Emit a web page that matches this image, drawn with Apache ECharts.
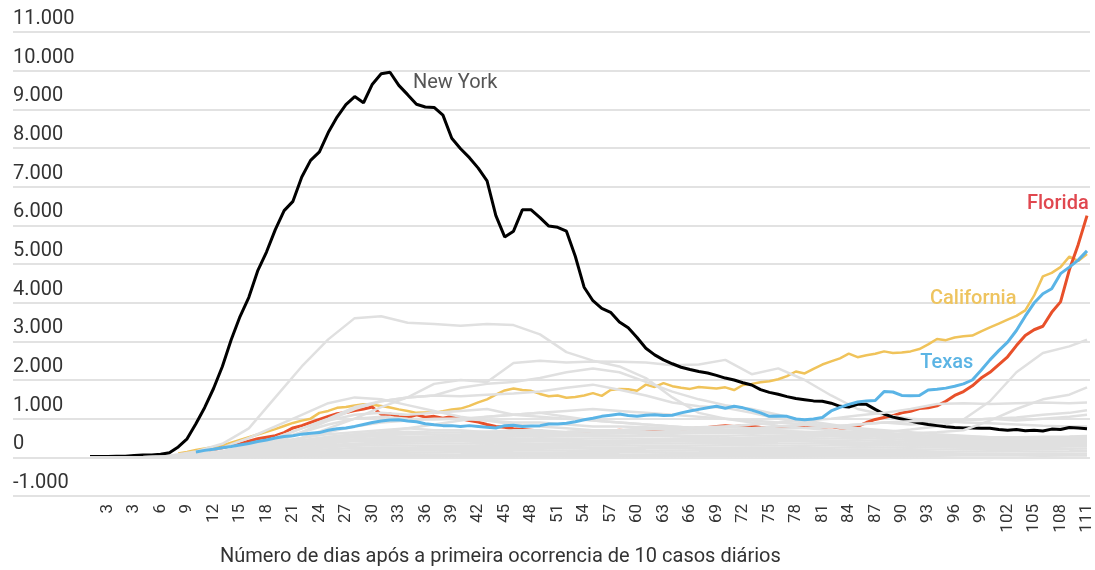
<!DOCTYPE html>
<html>
<head>
<meta charset="utf-8">
<script src="https://cdn.jsdelivr.net/npm/echarts@6/dist/echarts.min.js"></script>
<style>
html, body { margin: 0; padding: 0; background: #fff; }
#chart { width: 1095px; height: 570px; }
</style>
</head>
<body>
<div id="chart"></div>
<script>
// eixo x: posicao do dia na serie (0..113) e os rotulos mostrados
var tickDays = [2, 5, 8, 11, 14, 17, 20, 23, 26, 29, 32, 35, 38, 41, 44, 47, 50, 53, 56, 59, 62, 65, 68, 71, 74, 77, 80, 83, 86, 89, 92, 95, 98, 101, 104, 107, 110, 113];
var tickLabels = ['3', '3', '6', '9', '12', '15', '18', '21', '24', '27', '30', '33', '36', '39', '42', '45', '48', '51', '54', '57', '60', '63', '66', '69', '72', '75', '78', '81', '84', '87', '90', '93', '96', '99', '102', '105', '108', '111'];
var yTicks = { min: -1000, max: 11000, step: 1000 };

// estados destacados (um valor por dia)
var newYork = [20, 20, 20, 30, 30, 50, 60, 60, 80, 120,
  270, 480, 870, 1290, 1780, 2350, 3040, 3640, 4140, 4820,
  5310, 5890, 6380, 6620, 7250, 7680, 7900, 8400, 8800, 9120,
  9330, 9170, 9650, 9920, 9960, 9620, 9380, 9130, 9060, 9050,
  8850, 8250, 7980, 7750, 7480, 7150, 6250, 5700, 5850, 6400,
  6400, 6200, 5980, 5950, 5850, 5200, 4400, 4050, 3850, 3750,
  3500, 3350, 3100, 2820, 2650, 2520, 2420, 2330, 2270, 2220,
  2180, 2120, 2050, 2000, 1930, 1870, 1750, 1680, 1630, 1570,
  1520, 1490, 1460, 1450, 1400, 1320, 1300, 1370, 1370, 1240,
  1120, 1040, 990, 940, 890, 850, 820, 790, 770, 760,
  760, 750, 750, 720, 700, 720, 690, 700, 680, 730,
  720, 770, 760, 740];
var texas = [null, null, null, null, null, null, null, null, null, null, null, null,
  140, 180, 210, 250, 280, 320, 360, 410,
  450, 500, 540, 560, 600, 620, 640, 700, 740, 760,
  800, 850, 900, 940, 965, 970, 940, 920, 870, 840,
  820, 820, 800, 820, 800, 780, 760, 820, 830, 800,
  810, 820, 860, 860, 880, 920, 970, 1010, 1060, 1090,
  1120, 1080, 1060, 1090, 1100, 1080, 1090, 1150, 1200, 1240,
  1280, 1320, 1270, 1320, 1280, 1220, 1150, 1060, 1070, 1060,
  990, 970, 990, 1030, 1200, 1290, 1370, 1430, 1460, 1470,
  1700, 1690, 1600, 1590, 1600, 1740, 1760, 1790, 1840, 1900,
  2000, 2250, 2520, 2760, 2980, 3280, 3650, 3990, 4230, 4360,
  4750, 4920, 5100, 5340];
var california = [null, null, null, null, null, null, null, null, null, null,
  100, 140, 190, 230, 270, 310, 380, 450, 520, 590,
  660, 730, 810, 890, 950, 1000, 1150, 1200, 1280, 1300,
  1340, 1370, 1360, 1330, 1290, 1240, 1200, 1150, 1160, 1150,
  1190, 1240, 1260, 1330, 1420, 1500, 1620, 1730, 1780, 1740,
  1720, 1640, 1580, 1600, 1540, 1560, 1600, 1660, 1590, 1740,
  1770, 1760, 1720, 1880, 1820, 1920, 1840, 1800, 1770, 1820,
  1800, 1780, 1810, 1740, 1870, 1900, 1940, 1970, 2020, 2100,
  2220, 2170, 2290, 2400, 2480, 2560, 2680, 2590, 2640, 2680,
  2740, 2700, 2710, 2740, 2800, 2920, 3060, 3030, 3100, 3130,
  3150, 3260, 3360, 3460, 3560, 3660, 3800, 4180, 4680, 4770,
  4920, 5190, 5080, 5260];
var florida = [null, null, null, null, null, null, null, null, null, null,
  60, 90, 120, 160, 200, 250, 300, 350, 420, 480,
  520, 560, 640, 760, 820, 900, 980, 1060, 1130, 1160,
  1210, 1250, 1300, 1110, 1120, 1050, 1030, 1100, 1040, 1060,
  1010, 1060, 1000, 950, 910, 850, 800, 780, 740, 720,
  700, 680, 650, 640, 630, 640, 670, 620, 650, 680,
  700, 690, 710, 720, 700, 720, 740, 720, 740, 760,
  770, 800, 820, 800, 820, 810, 770, 760, 780, 800,
  790, 800, 790, 780, 800, 760, 750, 800, 900, 980,
  1030, 1080, 1150, 1190, 1260, 1280, 1330, 1450, 1600, 1700,
  1850, 2050, 2200, 2400, 2600, 2890, 3150, 3300, 3390, 3750,
  4020, 4850, 5500, 6250];

// demais estados, um valor a cada 3 dias
var greyDays = [0, 3, 6, 9, 12, 15, 18, 21, 24, 27, 30, 33, 36, 39, 42, 45, 48, 51, 54, 57, 60, 63, 66, 69, 72, 75, 78, 81, 84, 87, 90, 93, 96, 99, 102, 105, 108, 111, 113];
var gArizona = [0, 0, 0, 5, 10, 20, 40, 60, 80, 100, 120, 150, 180, 200, 220, 250, 280, 300, 330, 360, 380, 400, 420, 450, 480, 500, 520, 540, 560, 600, 650, 720, 800, 980, 1450, 2200, 2700, 2870, 3040];
var gNewJersey = [0, 0, 10, 40, 150, 350, 750, 1550, 2350, 3050, 3600, 3650, 3480, 3450, 3400, 3450, 3420, 3180, 2720, 2500, 2350, 2050, 1550, 1150, 1000, 900, 820, 760, 700, 640, 580, 520, 480, 450, 430, 410, 390, 370, 360];
var gIllinois = [0, 0, 5, 20, 60, 120, 200, 320, 500, 750, 1000, 1300, 1550, 1900, 2000, 1950, 2440, 2500, 2450, 2480, 2470, 2450, 2380, 2400, 2520, 2150, 2300, 2000, 1600, 1250, 1100, 1000, 950, 900, 880, 850, 820, 800, 800];
var gMassachusetts = [0, 0, 5, 20, 60, 150, 300, 500, 750, 1000, 1300, 1450, 1550, 1600, 1800, 1900, 1950, 2050, 2200, 2300, 2200, 1950, 1700, 1500, 1350, 1250, 1100, 950, 850, 750, 650, 550, 500, 450, 420, 400, 380, 370, 360];
var gPennsylvania = [0, 0, 5, 15, 40, 100, 200, 380, 650, 950, 1250, 1450, 1550, 1600, 1580, 1620, 1650, 1700, 1800, 1880, 1750, 1600, 1420, 1320, 1280, 1150, 1000, 900, 800, 700, 620, 560, 520, 480, 450, 430, 420, 400, 390];
var gMichigan = [0, 0, 5, 30, 100, 250, 500, 800, 1100, 1400, 1550, 1500, 1350, 1200, 1050, 950, 850, 800, 750, 700, 650, 600, 550, 500, 480, 460, 440, 420, 400, 380, 360, 350, 340, 330, 320, 310, 300, 300, 290];
var gMid1 = [0, 0, 5, 20, 60, 150, 300, 500, 750, 950, 1100, 1150, 1100, 1150, 1200, 1250, 1100, 1050, 1000, 950, 900, 850, 800, 750, 700, 650, 620, 600, 580, 560, 540, 520, 500, 480, 460, 440, 420, 400, 400];
var gMid2 = [0, 0, 5, 15, 50, 120, 250, 450, 650, 850, 1000, 1050, 1000, 980, 1000, 1050, 1100, 1150, 1050, 950, 900, 850, 800, 750, 720, 700, 680, 650, 620, 600, 580, 560, 540, 520, 500, 500, 480, 470, 460];
var gMid3 = [0, 0, 5, 10, 40, 100, 200, 350, 500, 650, 800, 900, 950, 1000, 1000, 950, 900, 900, 850, 800, 800, 780, 760, 740, 720, 700, 680, 660, 640, 620, 600, 580, 560, 540, 520, 500, 480, 460, 450];
var gMid4 = [0, 0, 5, 10, 30, 80, 150, 250, 350, 450, 550, 650, 750, 850, 950, 1050, 1100, 1150, 1200, 1250, 1200, 1150, 1100, 1050, 1000, 950, 900, 850, 800, 750, 700, 650, 600, 560, 520, 500, 480, 460, 450];
var gMid5 = [0, 0, 5, 20, 60, 150, 250, 400, 500, 600, 650, 700, 750, 700, 700, 650, 700, 700, 650, 700, 700, 750, 700, 750, 800, 750, 800, 850, 800, 850, 900, 850, 900, 950, 1000, 950, 1000, 1050, 1100];
var gLateA = [0, 0, 0, 5, 10, 20, 40, 70, 100, 130, 170, 200, 230, 260, 280, 300, 320, 340, 360, 380, 400, 420, 440, 460, 480, 500, 520, 540, 560, 580, 600, 620, 650, 700, 950, 1250, 1500, 1620, 1810];
var gLateB = [0, 0, 5, 20, 50, 100, 160, 220, 300, 380, 450, 500, 520, 540, 560, 580, 600, 620, 650, 680, 700, 720, 750, 780, 800, 850, 900, 950, 1000, 1080, 1150, 1250, 1380, 1400, 1380, 1400, 1420, 1400, 1420];
var gLateC = [0, 0, 5, 15, 40, 80, 130, 180, 230, 280, 330, 380, 420, 460, 500, 520, 540, 560, 580, 600, 620, 640, 660, 680, 700, 720, 740, 760, 800, 850, 900, 930, 950, 960, 1000, 1030, 1100, 1150, 1220];
var gLow1 = [0, 0, 0, 2, 5, 8, 10, 15, 20, 25, 30, 30, 35, 30, 35, 40, 35, 30, 35, 40, 35, 30, 35, 40, 40, 35, 30, 35, 40, 45, 40, 35, 40, 45, 50, 45, 40, 45, 50];
var gLow2 = [0, 0, 2, 5, 10, 20, 30, 45, 60, 70, 80, 85, 80, 75, 80, 90, 85, 80, 85, 90, 80, 75, 80, 85, 90, 85, 80, 85, 90, 95, 90, 85, 90, 95, 100, 95, 90, 95, 100];
var gLow3 = [0, 0, 3, 8, 15, 30, 50, 70, 90, 110, 130, 140, 130, 125, 135, 140, 130, 125, 130, 140, 135, 130, 125, 130, 140, 135, 130, 140, 150, 145, 140, 135, 140, 150, 160, 155, 150, 160, 170];
var gLow4 = [0, 0, 3, 10, 20, 40, 70, 100, 130, 160, 180, 190, 185, 175, 180, 190, 185, 180, 175, 185, 190, 180, 175, 185, 190, 195, 185, 180, 190, 200, 195, 190, 200, 210, 220, 215, 210, 220, 230];
var gLow5 = [0, 0, 5, 12, 25, 50, 90, 130, 170, 210, 240, 250, 245, 235, 240, 250, 245, 240, 235, 245, 250, 240, 235, 245, 250, 255, 245, 240, 250, 260, 255, 250, 260, 270, 280, 275, 270, 280, 290];
var gLow6 = [0, 0, 5, 15, 30, 60, 110, 160, 210, 260, 300, 310, 305, 295, 300, 310, 305, 300, 295, 305, 310, 300, 295, 305, 310, 315, 305, 300, 310, 320, 310, 300, 305, 310, 320, 315, 310, 320, 330];
var gLow7 = [0, 0, 5, 15, 35, 70, 130, 190, 250, 310, 360, 370, 365, 355, 360, 370, 365, 360, 355, 365, 370, 360, 355, 365, 370, 375, 365, 360, 370, 380, 370, 360, 365, 370, 380, 375, 370, 380, 390];
var gLow8 = [0, 0, 6, 18, 40, 80, 150, 220, 290, 360, 420, 430, 425, 410, 420, 430, 425, 420, 415, 425, 430, 420, 415, 425, 430, 435, 425, 420, 430, 440, 420, 400, 390, 380, 390, 400, 410, 420, 430];
var gLow9 = [0, 0, 6, 20, 45, 90, 170, 250, 330, 410, 470, 490, 480, 470, 480, 490, 480, 470, 475, 485, 490, 480, 470, 485, 490, 495, 485, 480, 490, 500, 480, 450, 430, 420, 430, 440, 450, 460, 470];
var gLow10 = [0, 0, 8, 22, 50, 100, 190, 280, 370, 450, 520, 550, 540, 530, 540, 550, 545, 535, 540, 550, 560, 550, 540, 550, 560, 570, 555, 540, 550, 560, 530, 500, 470, 450, 460, 470, 480, 490, 500];
var gLow11 = [0, 0, 8, 25, 55, 110, 200, 300, 400, 490, 560, 600, 610, 590, 600, 620, 610, 600, 610, 620, 630, 620, 610, 620, 630, 640, 620, 600, 610, 620, 580, 540, 500, 480, 490, 500, 510, 520, 530];
var gLow12 = [0, 0, 10, 25, 60, 120, 220, 330, 440, 530, 600, 640, 660, 640, 650, 670, 660, 650, 660, 680, 690, 670, 660, 670, 680, 690, 670, 650, 660, 660, 620, 570, 530, 500, 510, 520, 530, 540, 550];

var GREY = '#e0e0e0';
var FONT = 'Roboto';

function fmtThousands(v) {
	return String(v).replace(/\B(?=(\d{3})+(?!\d))/g, '.');
}

function greyLine(vals) {
	var pts = [];
	for (var k = 0; k < greyDays.length; ++k) {
		pts.push([greyDays[k], vals[k]]);
	}
	return {
		type: 'line', data: pts, symbol: 'none', silent: true,
		lineStyle: { color: GREY, width: 2.5 }
	};
}

function mainLine(vals, color, width, label, labelColor, weight, at) {
	var pts = [];
	for (var i = 0; i < vals.length; ++i) {
		pts.push([i, vals[i]]);
	}
	return {
		type: 'line', data: pts, symbol: 'none', silent: true,
		lineStyle: { color: color, width: width },
		markPoint: {
			symbol: 'circle', symbolSize: 0, silent: true,
			label: {
				show: true, position: 'right', distance: 0,
				color: labelColor, fontSize: 20, fontFamily: FONT, fontWeight: weight,
				formatter: label
			},
			data: [{ coord: at }]
		}
	};
}

// ordem de desenho: linhas cinzas passam por cima de parte das coloridas
var series = [
	greyLine(gArizona),
	mainLine(california, '#f0c35a', 2.5, 'California', '#eec45f', 500, [95.2, 4090]),
	mainLine(florida, '#e8502a', 3, 'Florida', '#e0474f', 500, [106.2, 6540]),
	greyLine(gNewJersey),
	greyLine(gIllinois),
	greyLine(gMassachusetts),
	greyLine(gPennsylvania),
	greyLine(gMichigan),
	greyLine(gMid1),
	greyLine(gMid2),
	greyLine(gMid3),
	greyLine(gMid4),
	greyLine(gMid5),
	greyLine(gLow12),
	greyLine(gLow11),
	greyLine(gLow10),
	greyLine(gLow9),
	mainLine(newYork, '#000000', 3, 'New York', '#555555', 'normal', [36.6, 9670]),
	greyLine(gLow8),
	greyLine(gLow7),
	greyLine(gLow6),
	greyLine(gLateA),
	greyLine(gLateB),
	mainLine(texas, '#5ab4e6', 3, 'Texas', '#5bb4e4', 500, [94.1, 2430]),
	greyLine(gLateC),
	greyLine(gLow5),
	greyLine(gLow4),
	greyLine(gLow3),
	greyLine(gLow2),
	greyLine(gLow1)
];

var myChart = echarts.init(document.getElementById('chart'), null, { renderer: 'canvas' });
var option = {
	animation: false,
	backgroundColor: '#fff',
	title: {
		text: 'Número de dias após a primeira ocorrencia de 10 casos diários',
		left: 215, top: 542,
		textStyle: { color: '#333', fontSize: 20, fontWeight: 'normal', fontFamily: FONT }
	},
	grid: { left: 13, right: 5, top: 32, bottom: 74, outerBoundsMode: 'none' },
	xAxis: {
		type: 'value', min: -8.73, max: 113.34,
		axisLine: { show: false }, axisTick: { show: false }, splitLine: { show: false },
		axisLabel: {
			customValues: tickDays, rotate: 90, margin: 8,
			color: '#333', fontSize: 17, fontFamily: FONT,
			formatter: function (v) { return tickLabels[tickDays.indexOf(v)]; }
		}
	},
	yAxis: {
		type: 'value', min: yTicks.min, max: yTicks.max, interval: yTicks.step,
		axisLine: { show: false }, axisTick: { show: false },
		splitLine: { lineStyle: { color: '#e2e2e2', width: 2 } },
		axisLabel: {
			inside: true, margin: 0, align: 'left', verticalAlign: 'bottom',
			padding: [0, 0, 3, 0],
			color: '#333', fontSize: 20, fontFamily: FONT,
			formatter: fmtThousands
		}
	},
	series: series
};
myChart.setOption(option);
</script>
</body>
</html>
